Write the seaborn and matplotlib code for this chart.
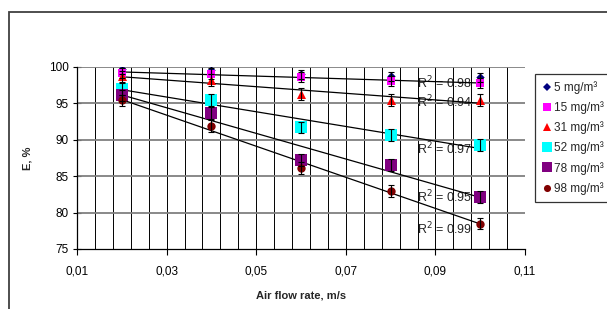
import numpy as np
import pandas as pd
import matplotlib
matplotlib.use("Agg")
import matplotlib.pyplot as plt
from matplotlib.lines import Line2D
from matplotlib.patches import Rectangle
from matplotlib.ticker import FuncFormatter
import seaborn as sns

# Data
air_flow = [0.02, 0.04, 0.06, 0.08, 0.10]
labels = ['5 mg/m³', '15 mg/m³', '31 mg/m³', '52 mg/m³', '78 mg/m³', '98 mg/m³']
eff_5 = [99.7, 99.6, 99.0, 98.7, 98.6]
eff_15 = [99.2, 99.1, 98.6, 98.1, 97.8]
eff_31 = [98.7, 98.2, 96.3, 95.5, 95.5]
eff_52 = [97.0, 95.5, 91.7, 90.7, 89.3]
eff_78 = [96.1, 93.7, 87.2, 86.5, 82.1]
eff_98 = [95.4, 91.9, 86.1, 83.0, 78.5]
err_5 = [0.6, 0.6, 0.6, 0.6, 0.6]
err_15 = [0.7, 0.7, 0.7, 0.7, 0.7]
err_31 = [0.8, 0.8, 0.8, 0.8, 0.8]
err_52 = [0.8, 0.8, 0.8, 0.8, 0.8]
err_78 = [0.8, 0.8, 0.8, 0.8, 0.8]
err_98 = [0.8, 0.8, 0.8, 0.8, 0.8]
x_ticks = [0.01, 0.03, 0.05, 0.07, 0.09, 0.11]
y_ticks = [75, 80, 85, 90, 95, 100]
r2_labels = ['R$^2$ = 0.98', 'R$^2$ = 0.94', 'R$^2$ = 0.97', 'R$^2$ = 0.95', 'R$^2$ = 0.99']
r2_y = [97.8, 95.2, 88.8, 82.1, 77.7]

values = [eff_5, eff_15, eff_31, eff_52, eff_78, eff_98]
errors = [err_5, err_15, err_31, err_52, err_78, err_98]
colors = ['#000080', '#FF00FF', '#FF0000', '#00FFFF', '#800080', '#800000']
markers = ['D', 's', '^', 's', 's', 'o']
msizes = [18, 36, 42, 75, 75, 36]
has_trend = [False, True, True, True, True, True]

rows = []
for lab, vals, errs in zip(labels, values, errors):
    for x, v, e in zip(air_flow, vals, errs):
        rows.append({'series': lab, 'flow': x, 'eff': v, 'err': e})
df = pd.DataFrame(rows)

sns.set_style('white')
plt.rcParams['font.family'] = ['Liberation Sans', 'DejaVu Sans']

fig = plt.figure(figsize=(6.07, 3.09), dpi=100)
ax = fig.add_axes([0.1269, 0.1942, 0.865 - 0.1269, 0.7832 - 0.1942])

# outer chart border
fig.patches.append(Rectangle((9 / 607, -0.05), 1.1, 1 - 12 / 309 + 0.05,
                             transform=fig.transFigure, fill=False,
                             edgecolor='#404040', linewidth=1.3, zorder=0))

# grid: minor verticals every 0.004, horizontals every 5
for gx in np.linspace(0.01, 0.11, 26):
    ax.axvline(gx, color='black', linewidth=0.7, zorder=1)
for gy in y_ticks[1:]:
    ax.axhline(gy, color='#808080', linewidth=1.3, zorder=1)

# trend lines
for i, lab in enumerate(labels):
    if not has_trend[i]:
        continue
    sub = df[df['series'] == lab]
    sns.regplot(data=sub, x='flow', y='eff', ax=ax, scatter=False, ci=None,
                truncate=True, line_kws={'color': 'black', 'linewidth': 0.9, 'zorder': 3})

# markers + error bars
handles = []
for i, lab in enumerate(labels):
    sub = df[df['series'] == lab]
    sns.scatterplot(data=sub, x='flow', y='eff', ax=ax, marker=markers[i],
                    color=colors[i], s=msizes[i], edgecolor=colors[i],
                    linewidth=0, zorder=4, legend=False)
    ax.errorbar(sub['flow'], sub['eff'], yerr=sub['err'], fmt='none',
                ecolor='black', elinewidth=0.8, capsize=2.5, capthick=0.8, zorder=5)
    handles.append(Line2D([], [], linestyle='none', marker=markers[i],
                          color=colors[i], markersize=np.sqrt(msizes[i]) * 0.85,
                          markeredgewidth=0, label=lab))

for txt, yy in zip(r2_labels, r2_y):
    ax.text(0.0859, yy, txt, fontsize=9, ha='left', va='center', zorder=2)

ax.set_xlim(0.01, 0.11)
ax.set_ylim(75, 100)
ax.set_xticks(x_ticks)
ax.set_yticks(y_ticks)
ax.xaxis.set_major_formatter(FuncFormatter(lambda v, p: f"{v:.2f}".replace('.', ',')))
ax.yaxis.set_major_formatter(FuncFormatter(lambda v, p: f"{v:.0f}"))
ax.tick_params(axis='x', direction='out', length=4, width=0.8, labelsize=8.5, pad=8, colors='black')
ax.tick_params(axis='y', direction='inout', length=6, width=0.8, labelsize=8.5, pad=3, colors='black')
ax.tick_params(bottom=True, left=True)

for side in ['top', 'right']:
    ax.spines[side].set_visible(False)
for side in ['left', 'bottom']:
    ax.spines[side].set_color('black')
    ax.spines[side].set_linewidth(0.9)

ax.set_xlabel('Air flow rate, m/s', fontsize=8, fontweight='bold', labelpad=9)
ax.set_ylabel('E, %', fontsize=8, fontweight='bold', labelpad=12)

leg = fig.legend(handles=handles, loc='upper left', bbox_to_anchor=(535 / 607, 1 - 74 / 309),
                 frameon=True, fancybox=False, fontsize=8.5, handletextpad=0.1,
                 handlelength=0.9, labelspacing=0.62, borderpad=0.6, borderaxespad=0)
leg.get_frame().set_edgecolor('black')
leg.get_frame().set_linewidth(0.9)

fig.savefig('out.png', dpi=100)
